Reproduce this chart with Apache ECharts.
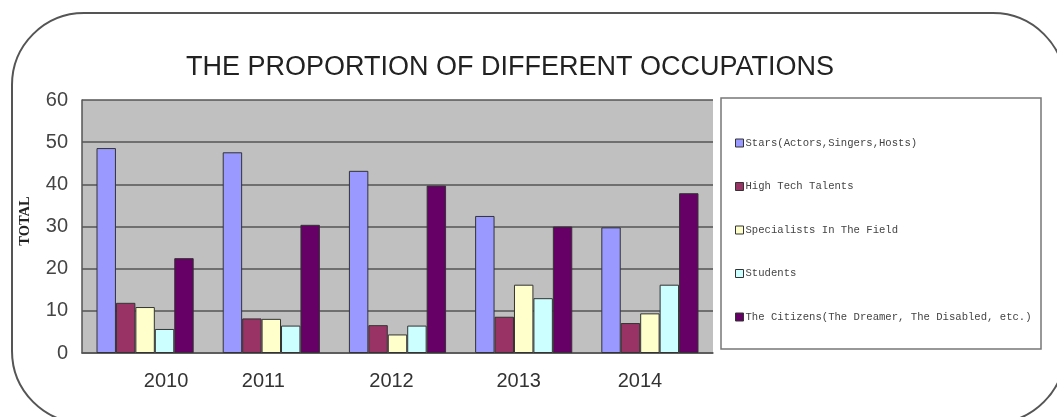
<!DOCTYPE html>
<html>
<head>
<meta charset="utf-8">
<script src="https://cdn.jsdelivr.net/npm/echarts@6/dist/echarts.min.js"></script>
<style>
    html, body {margin: 0; padding: 0; background: #fff;}
    #chart {width: 1057px; height: 417px;}
</style>
</head>
<body>
<div id="chart"></div>
<script>
var years = ['2010', '2011', '2012', '2013', '2014'];

var seriesNames = [
    'Stars(Actors,Singers,Hosts)',
    'High Tech Talents',
    'Specialists In The Field',
    'Students',
    'The Citizens(The Dreamer, The Disabled, etc.)'
];

var stars = [48.6, 47.6, 43.2, 32.5, 29.8];
var highTech = [11.9, 8.2, 6.6, 8.6, 7.1];
var specialists = [10.9, 8.1, 4.4, 16.2, 9.4];
var students = [5.7, 6.5, 6.5, 13.0, 16.2];
var citizens = [22.5, 30.4, 39.7, 30.0, 37.9];

var yTicks = [0, 10, 20, 30, 40, 50, 60];

var barColors = ['#9999FF', '#993366', '#FFFFCC', '#CCFFFF', '#660066'];

var chart = echarts.init(document.getElementById('chart'));

// 年份标签在原图里位置并不居中，用 padding 微调
var labelRich = {
    l0: {padding: [0, 0, 0, 42]},
    l1: {padding: [0, 16, 0, 0]},
    l2: {padding: [0, 12, 0, 0]},
    l3: {padding: [0, 10, 0, 0]},
    l4: {padding: [0, 20, 0, 0]}
};

var allData = [stars, highTech, specialists, students, citizens];
var series = [];
for (var i = 0; i < allData.length; i++) {
    series.push({
        name: seriesNames[i],
        type: 'bar',
        data: allData[i],
        barGap: '0%',
        barCategoryGap: '23%',
        itemStyle: {
            color: barColors[i],
            borderColor: '#333',
            borderWidth: 1
        }
    });
}

var option = {
    animation: false,
    backgroundColor: '#fff',
    color: barColors,
    title: {
        text: 'THE PROPORTION OF DIFFERENT OCCUPATIONS',
        left: 505,
        textAlign: 'center',
        top: 49,
        textStyle: {
            fontFamily: 'Liberation Sans',
            fontSize: 27,
            fontWeight: 'normal',
            color: '#222'
        }
    },
    graphic: [
        {
            type: 'rect',
            shape: {x: 12, y: 13, width: 1053, height: 410, r: 72},
            style: {fill: 'none', stroke: '#555', lineWidth: 2},
            z: -1
        },
        {
            type: 'rect',
            shape: {x: 721, y: 98, width: 320, height: 251},
            style: {fill: '#fff', stroke: '#777', lineWidth: 1.5},
            z: -1
        },
        {
            type: 'text',
            x: 25,
            y: 221,
            rotation: Math.PI / 2,
            style: {
                text: 'TOTAL',
                fontFamily: 'Liberation Serif',
                fontSize: 14.5,
                fontWeight: 'bold',
                fill: '#222',
                align: 'center',
                verticalAlign: 'middle'
            }
        }
    ],
    legend: {
        orient: 'vertical',
        left: 730,
        top: 132,
        itemWidth: 8,
        itemHeight: 8,
        itemGap: 31.5,
        icon: 'rect',
        data: seriesNames,
        itemStyle: {borderColor: '#333', borderWidth: 1},
        textStyle: {
            fontFamily: 'Liberation Mono',
            fontSize: 10.6,
            lineHeight: 12,
            color: '#444',
            padding: [0, 0, 0, -3]
        }
    },
    grid: {
        left: 82,
        right: 344,
        top: 100,
        bottom: 64,
        show: true,
        backgroundColor: '#C0C0C0',
        borderWidth: 0
    },
    xAxis: {
        type: 'category',
        data: years,
        axisLine: {lineStyle: {color: '#555', width: 1.5}},
        axisTick: {
            inside: true,
            length: 5,
            lineStyle: {color: '#555'}
        },
        axisLabel: {
            margin: 18,
            fontFamily: 'Liberation Sans',
            fontSize: 20,
            color: '#333',
            formatter: function (value, index) {
                return '{l' + index + '|' + value + '}';
            },
            rich: labelRich
        }
    },
    yAxis: {
        type: 'value',
        min: yTicks[0],
        max: yTicks[yTicks.length - 1],
        interval: 10,
        axisLine: {show: true, lineStyle: {color: '#555', width: 1.5}},
        axisTick: {show: false},
        splitLine: {lineStyle: {color: '#555', width: 1.5}},
        axisLabel: {
            margin: 14,
            fontFamily: 'Liberation Sans',
            fontSize: 20,
            color: '#444'
        }
    },
    series: series
};

chart.setOption(option);
</script>
</body>
</html>
